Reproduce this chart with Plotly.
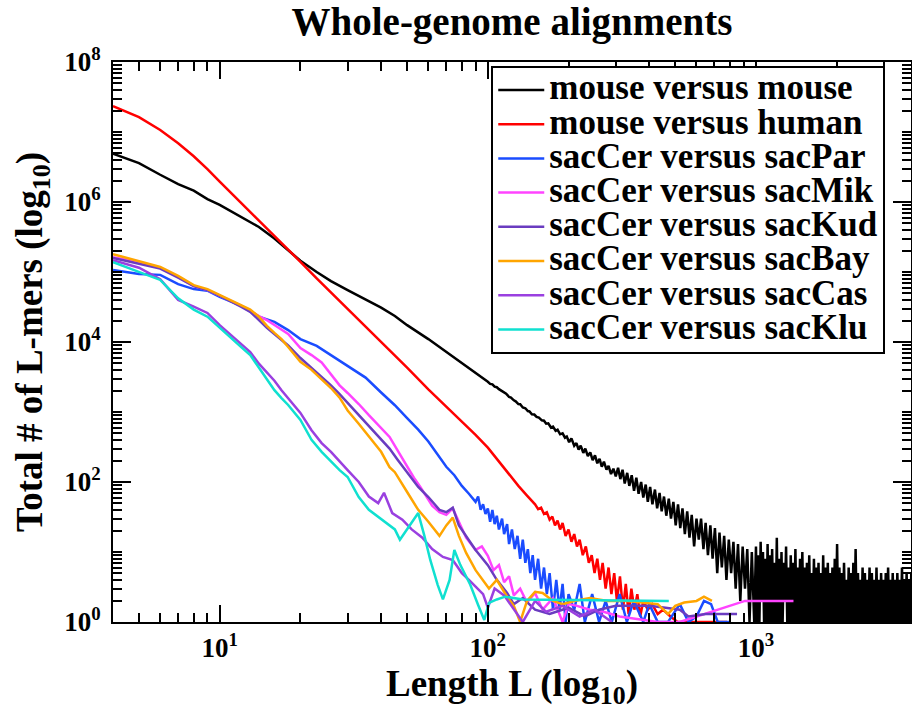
import math
import plotly.graph_objects as go

FONT = "Liberation Serif"

# ---------------- data: (length L, total number of L-mers) ----------------
mouse_mouse = [
    (4, 4.9e6), (5, 3.6e6), (6, 2.45e6), (7, 1.8e6), (8, 1.45e6), (9, 1.1e6), (10, 9.1e5),
    (12, 6.2e5), (14, 4.4e5), (16, 3.0e5), (18, 2.05e5), (20, 1.45e5), (23, 1.0e5), (26, 7.4e4),
    (30, 5.5e4), (35, 4.0e4), (40, 3.1e4), (45, 2.35e4), (50, 1.74e4), (60, 1.1e4), (70, 7.2e3),
    (80, 5.0e3), (90, 3.7e3),
    (100, 2700), (102, 2520), (104, 2480), (106, 2300), (108, 2260), (110, 2120), (113, 1980),
    (115, 1880), (117, 1830), (120, 1640), (122, 1610), (125, 1470), (127, 1420), (130, 1300),
    (132, 1290), (135, 1160), (138, 1130), (141, 1030), (143, 1020), (146, 930), (149, 920),
    (152, 850), (155, 830), (159, 760), (162, 750), (165, 680), (168, 690), (172, 600),
    (175, 620), (179, 540), (182, 560), (186, 480), (190, 495), (194, 430), (197, 445),
    (201, 370), (205, 420), (210, 330), (214, 360), (218, 290), (222, 330), (227, 260),
    (231, 300), (236, 235), (241, 265), (246, 205), (251, 240), (256, 185), (261, 215),
    (266, 165), (271, 195), (277, 150), (282, 170), (288, 130), (294, 155), (300, 120),
    (306, 160), (312, 110), (318, 150), (324, 95), (331, 135), (337, 88), (344, 125), (351, 75),
    (358, 115), (365, 68), (373, 100), (380, 60), (388, 92), (395, 52), (403, 85), (411, 48),
    (420, 78), (428, 42), (437, 70), (445, 38), (454, 62), (463, 33), (473, 58), (482, 30),
    (492, 52), (502, 24), (512, 48), (522, 22), (532, 42), (543, 18), (554, 38), (565, 16),
    (576, 34), (588, 12), (600, 30),
    (612, 15), (624, 30), (637, 11), (649, 26), (662, 9), (676, 24), (689, 8), (703, 22),
    (717, 5), (731, 19), (746, 6), (761, 17), (776, 4), (792, 15), (808, 5), (824, 14),
    (840, 3), (857, 13), (874, 2), (892, 12), (910, 3), (928, 11), (946, 1), (965, 10),
    (985, 1),
]
# dense, very noisy tail of mouse versus mouse (L >= 1000)
mouse_mouse_tail_L = [
    1000, 1010, 1020, 1030, 1041, 1051, 1062, 1072, 1083, 1094,
    1105, 1116, 1127, 1138, 1149, 1161, 1173, 1184, 1196, 1208,
    1220, 1232, 1245, 1257, 1270, 1282, 1295, 1308, 1321, 1335,
    1348, 1361, 1375, 1389, 1403, 1417, 1431, 1445, 1460, 1474,
    1489, 1504, 1519, 1534, 1549, 1565, 1580, 1596, 1612, 1628,
    1645, 1661, 1678, 1694, 1711, 1729, 1746, 1763, 1781, 1799,
    1817, 1835, 1853, 1872, 1890, 1909, 1928, 1948, 1967, 1987,
    2007, 2027, 2047, 2068, 2088, 2109, 2130, 2152, 2173, 2195,
    2217, 2239, 2261, 2284, 2307, 2330, 2353, 2377, 2401, 2425,
    2449, 2473, 2498, 2523, 2548, 2574, 2599, 2625, 2652, 2678,
    2705, 2732, 2759, 2787, 2815, 2843, 2872, 2900, 2929, 2959,
    2988, 3018, 3048, 3079, 3110, 3141, 3172, 3204, 3236, 3268,
    3301, 3334, 3367, 3401, 3435, 3469, 3504, 3539, 3574, 3610,
    3646, 3683, 3720, 3757, 3795,
]
mouse_mouse_tail_N = [
    12, 1, 9, 1, 14, 2, 10, 1, 8, 1,
    13, 1, 9, 1, 11, 1, 7, 1, 16, 1,
    8, 1, 10, 1, 7, 2, 12, 1, 6, 1,
    9, 1, 7, 1, 11, 1, 6, 1, 8, 1,
    10, 1, 6, 1, 7, 1, 9, 1, 5, 1,
    8, 1, 6, 1, 7, 1, 5, 1, 9, 1,
    6, 1, 7, 1, 5, 1, 6, 1, 8, 1,
    13, 1, 6, 1, 5, 1, 7, 1, 4, 1,
    6, 1, 5, 1, 7, 1, 11, 1, 5, 1,
    4, 1, 6, 1, 5, 1, 4, 1, 6, 1,
    5, 1, 4, 1, 6, 1, 4, 1, 5, 1,
    4, 1, 5, 1, 6, 1, 4, 1, 5, 1,
    4, 1, 5, 1, 4, 1, 6, 1, 4, 1,
    5, 1, 4, 1, 5,
]

mouse_human = [
    (4, 2.35e7), (5, 1.63e7), (6, 1.07e7), (7, 6.9e6), (8, 4.5e6), (9, 2.95e6), (10, 1.95e6),
    (12, 9.8e5), (14, 5.4e5), (16, 3.2e5), (18, 2.1e5), (20, 1.4e5), (23, 8.1e4), (26, 5.1e4),
    (30, 3.0e4), (35, 1.66e4), (40, 1.0e4), (45, 6.5e3), (50, 4.3e3), (60, 2.1e3), (70, 1.2e3),
    (80, 720), (90, 470), (100, 310), (110, 195), (120, 125), (130, 88), (140, 64),
    (150, 48), (154, 41), (158, 43), (162, 35), (166, 37), (170, 29), (174, 32), (178, 24),
    (182, 28), (186, 21), (190, 26), (195, 17), (200, 21), (205, 14), (210, 18), (215, 12),
    (220, 15), (226, 9), (232, 12), (238, 7), (244, 9), (250, 5), (256, 8), (262, 4),
    (268, 7), (275, 3), (282, 6), (289, 2.5), (296, 5), (303, 2), (311, 4.5), (319, 1.5),
    (327, 3.5), (335, 1.3), (343, 3), (352, 1.5), (361, 2.5), (370, 1.2), (380, 2),
    (395, 1.5), (410, 1.8), (430, 1.3), (450, 1.5), (480, 1.2), (510, 1), (560, 1),
    (640, 1), (700, 1), (780, 1),
]

sacCer_sacPar = [
    (4, 1.07e5), (5, 9.4e4), (6, 9.1e4), (7, 6.7e4), (8, 5.7e4), (9, 5.4e4), (10, 4.4e4),
    (12, 3.3e4), (14, 2.3e4), (16, 1.94e4), (18, 1.48e4), (20, 1.1e4), (23, 8.8e3), (26, 6.5e3),
    (30, 4.5e3), (35, 3.1e3), (40, 1.9e3), (45, 1.25e3), (50, 820), (55, 560), (60, 380),
    (66, 230), (70, 165), (75, 125), (80, 88), (85, 68), (90, 52), (92, 62), (94, 40), (96, 48),
    (98, 35), (100, 42), (102, 27), (104, 40), (106, 25), (108, 33), (110, 21), (113, 30),
    (115, 18), (118, 25), (120, 13), (123, 21), (126, 11), (129, 17), (132, 8), (135, 15),
    (138, 7), (141, 11), (144, 5), (147, 9), (150, 4), (154, 8), (158, 3), (162, 6),
    (166, 2.5), (170, 5), (175, 1.5), (180, 4), (185, 1.5), (190, 3.5), (195, 1), (200, 2.5),
    (210, 1.5), (220, 3.5), (230, 1), (245, 2.5), (260, 1), (275, 2), (290, 1), (310, 2.5),
    (330, 1), (350, 2), (380, 1), (400, 1.8), (430, 1), (470, 1), (520, 1.8), (560, 1),
    (600, 1.2), (640, 2), (680, 1.8), (720, 1), (800, 1),
]

sacCer_sacMik = [
    (4, 1.62e5), (5, 1.38e5), (6, 1.15e5), (7, 8.5e4), (8, 6.3e4), (9, 5.5e4), (10, 4.6e4),
    (12, 3.3e4), (14, 2.35e4), (15, 2.05e4), (16, 1.75e4), (18, 1.3e4), (20, 8.2e3),
    (22, 6.5e3), (24, 5.1e3), (26, 3.5e3), (28, 2.4e3), (30, 1.87e3), (33, 1.3e3), (36, 900),
    (40, 590), (43, 440), (46, 285), (50, 163), (53, 115), (56, 85), (59, 62), (62, 46),
    (66, 37), (70, 34), (74, 42), (78, 27), (83, 16), (90, 10.7), (95, 12), (100, 8.8),
    (105, 5.5), (110, 6.5), (115, 3.7), (120, 4.5), (125, 2.4), (132, 3), (140, 1.9),
    (150, 2.6), (160, 1.5), (175, 2.2), (190, 1), (200, 1.8), (215, 1.7), (240, 1.5),
    (270, 1.4), (310, 1.2), (360, 1.1), (430, 1), (520, 1), (910, 2), (1380, 2),
]

sacCer_sacKud = [
    (4, 1.58e5), (5, 1.32e5), (6, 1.12e5), (7, 8.3e4), (8, 6.3e4), (9, 5.5e4), (10, 4.6e4),
    (12, 3.2e4), (13, 2.7e4), (15, 1.6e4), (16, 1.3e4), (18, 8.9e3), (20, 5.9e3), (22, 4.3e3),
    (24, 3.2e3), (26, 2.4e3), (28, 1.8e3), (30, 1.35e3), (33, 910), (36, 630), (40, 400),
    (43, 300), (46, 210), (50, 140), (55, 85), (60, 61), (66, 40), (70, 37), (74, 43),
    (78, 24), (85, 15), (90, 10.7), (100, 6.5), (108, 4), (118, 2.6), (125, 1.8), (135, 2.2),
    (150, 1.5), (170, 1.3), (200, 1.6), (230, 1.2), (260, 1.5), (300, 1.7), (400, 1.7),
    (460, 1.6), (520, 1.5), (560, 1.2), (650, 1.3), (850, 1.3),
]

sacCer_sacBay = [
    (4, 1.8e5), (5, 1.44e5), (6, 1.18e5), (7, 8.8e4), (8, 6.5e4), (9, 5.7e4), (10, 4.7e4),
    (11, 4.0e4), (12, 3.4e4), (13, 2.9e4), (14, 2.3e4), (15, 1.7e4), (16, 1.35e4),
    (17, 1.1e4), (18, 8.5e3), (20, 5.2e3), (22, 4.0e3), (24, 2.9e3), (26, 2.2e3), (28, 1.6e3),
    (30, 1.05e3), (33, 680), (36, 440), (40, 270), (43, 163), (45, 138), (50, 72), (55, 40),
    (60, 27), (66, 17), (70, 24), (74, 31), (78, 17), (83, 9.7), (90, 5.5), (96, 4), (101, 3),
    (108, 4), (118, 2.3), (125, 1.7), (132, 1), (140, 2), (150, 2.7), (160, 2.6), (175, 2),
    (190, 1.8), (210, 2), (240, 2.2), (280, 2), (330, 2), (380, 1.9), (430, 1.8), (470, 1.3),
    (500, 1.7), (540, 1.9), (600, 2), (640, 2.3), (685, 2),
]

sacCer_sacCas = [
    (4, 1.48e5), (5, 1.15e5), (6, 7.9e4), (7, 4.0e4), (8, 3.2e4), (9, 2.6e4), (10, 1.74e4),
    (11, 1.26e4), (12, 9.7e3), (13, 7.2e3), (14, 4.9e3), (15, 3.6e3), (16, 2.8e3),
    (17, 2.05e3), (18, 1.58e3), (20, 970), (22, 550), (24, 360), (26, 270), (28, 194),
    (30, 148), (33, 100), (36, 62), (39, 50), (41, 70), (44, 36), (48, 29), (52, 21), (57, 16),
    (62, 11), (68, 8.5), (74, 7.7), (80, 5), (85, 4), (90, 3.2), (96, 2.5), (100, 1.6),
    (106, 3), (115, 2.4), (125, 1.5), (135, 1), (150, 2), (165, 1.4), (190, 1.7), (220, 1.2),
    (250, 1.5), (290, 1),
]

sacCer_sacKlu = [
    (4, 1.38e5), (5, 1.0e5), (6, 7.7e4), (7, 4.2e4), (8, 2.9e4), (9, 2.3e4), (10, 1.58e4),
    (11, 1.15e4), (12, 8.5e3), (13, 6.5e3), (14, 4.3e3), (15, 2.9e3), (16, 2.05e3),
    (17, 1.58e3), (18, 1.26e3), (20, 770), (22, 400), (24, 270), (26, 194), (28, 148),
    (30, 118), (33, 61), (36, 40), (39, 32), (42, 26), (45, 21), (47, 15), (50, 21), (55, 36),
    (58, 17), (61, 7.7), (65, 3.4), (68, 2.1), (72, 4), (75, 10.7), (79, 6.5), (86, 3.4),
    (92, 1.75), (97, 1.07), (101, 1.87), (108, 2.1), (116, 2.3), (124, 2.2), (135, 2.1),
    (473, 2.0),
]

series_names = [
    "mouse versus mouse", "mouse versus human", "sacCer versus sacPar", "sacCer versus sacMik",
    "sacCer versus sacKud", "sacCer versus sacBay", "sacCer versus sacCas", "sacCer versus sacKlu",
]
series_colors = ["#000000", "#ff0000", "#1a4cff", "#ff44ff",
                 "#6a3cc0", "#ffa500", "#9a40e0", "#10e0d0"]

x_major = [10, 100, 1000]
x_major_text = ["10<sup>1</sup>", "10<sup>2</sup>", "10<sup>3</sup>"]
y_major = [1, 1e2, 1e4, 1e6, 1e8]
y_major_text = ["10<sup>0</sup>", "10<sup>2</sup>", "10<sup>4</sup>", "10<sup>6</sup>", "10<sup>8</sup>"]

# ---------------- figure ----------------
mm_x = [p[0] for p in mouse_mouse] + mouse_mouse_tail_L
mm_y = [p[1] for p in mouse_mouse] + mouse_mouse_tail_N
series_xy = [(mm_x, mm_y)] + [
    ([p[0] for p in pts], [p[1] for p in pts])
    for pts in (mouse_human, sacCer_sacPar, sacCer_sacMik, sacCer_sacKud,
                sacCer_sacBay, sacCer_sacCas, sacCer_sacKlu)
]

fig = go.Figure()
for name, (xs, ys), color in zip(series_names, series_xy, series_colors):
    fig.add_trace(go.Scatter(
        x=xs, y=ys, mode="lines",
        name=f"<span style='font-size:35px'>{name}</span>",
        line=dict(color=color, width=2.5),
    ))

x_minor = [k * 10 ** d for d in range(0, 4) for k in range(2, 10)]
y_minor = [k * 10 ** d for d in range(0, 8) for k in range(1, 10) if not (k == 1 and d % 2 == 0)]

axis_common = dict(
    type="log", showgrid=False, zeroline=False, showline=True, linecolor="black", linewidth=2,
    mirror="allticks", ticks="inside", tickwidth=1.5, tickcolor="black",
    tickmode="array", automargin=False,
    tickfont=dict(family=FONT, size=27, color="black", weight="bold"),
)

fig.update_xaxes(
    **axis_common, range=[math.log10(4), math.log10(3786)], ticklen=17,
    tickvals=x_major, ticktext=x_major_text, ticklabelstandoff=1,
    minor=dict(ticks="inside", ticklen=9, tickwidth=1.5, tickcolor="black",
               tickmode="array", tickvals=x_minor),
    title=dict(text="Length L (log<sub>10</sub>)", standoff=7,
               font=dict(family=FONT, size=37, color="black", weight="bold")),
)
fig.update_yaxes(
    **axis_common, range=[0, 8], ticklen=18,
    tickvals=y_major, ticktext=y_major_text, ticklabelstandoff=5,
    minor=dict(ticks="inside", ticklen=9, tickwidth=1.5, tickcolor="black",
               tickmode="array", tickvals=y_minor),
    title=dict(text="Total # of L-mers (log<sub>10</sub>)", standoff=10,
               font=dict(family=FONT, size=37, color="black", weight="bold")),
)

fig.update_layout(
    width=912, height=711,
    margin=dict(l=113, r=1, t=62, b=89, autoexpand=False),
    paper_bgcolor="white", plot_bgcolor="white",
    font=dict(family=FONT, color="black", weight="bold"),
    title=dict(text="Whole-genome alignments", x=0.5, xref="paper", xanchor="center",
               y=1 - 21 / 711, yref="container", yanchor="middle",
               font=dict(family=FONT, size=39, color="black", weight="bold")),
    showlegend=True,
    legend=dict(x=0.474, y=0.993, xanchor="left", yanchor="top", bgcolor="white",
                bordercolor="black", borderwidth=2, itemwidth=46, tracegroupgap=0,
                font=dict(family=FONT, size=24, color="black", weight="bold")),
)

fig.write_html(
    "out.html",
    config={"displayModeBar": False},
    post_script="document.body.style.margin='0';document.body.style.overflow='hidden';",
)
